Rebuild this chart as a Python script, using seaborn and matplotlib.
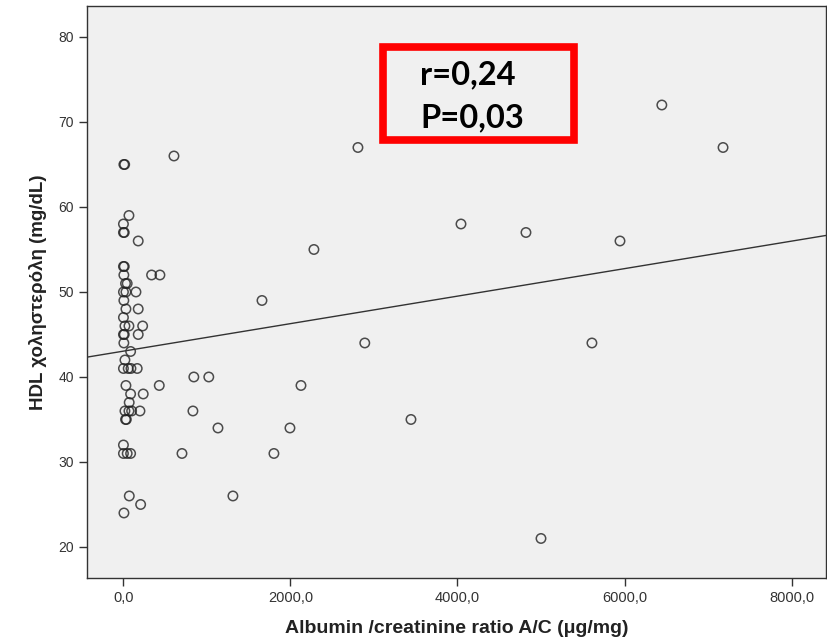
import numpy as np
import pandas as pd
import matplotlib
matplotlib.use('Agg')
import matplotlib.pyplot as plt
from matplotlib.patches import Rectangle
from matplotlib.ticker import FuncFormatter
import seaborn as sns

# Albumin/creatinine ratio (μg/mg) and HDL (mg/dL)
acr_cluster = [5, 15, 66, 0, 0, 10, 177,
               0, 10, 5, 337, 437, 25, 45,
               0, 30, 150, 5, 30, 177, 0,
               18, 66, 230, 0, 10, 177, 5,
               86, 18, 0, 57, 90, 165,
               30, 429, 86, 237, 69,
               18, 66, 98, 198, 25, 35,
               0, 0, 45, 86, 70, 206, 6]
hdl_cluster = [65, 65, 59, 58, 57, 57, 56,
               53, 53, 52, 52, 52, 51, 51,
               50, 50, 50, 49, 48, 48, 47,
               46, 46, 46, 45, 45, 45, 44,
               43, 42, 41, 41, 41, 41,
               39, 39, 38, 38, 37,
               36, 36, 36, 36, 35, 35,
               32, 31, 31, 31, 26, 25, 24]

acr_spread = [605, 2808, 6447, 7180, 4042, 4820, 5946, 2281, 1659, 2890, 5610,
              2126, 843, 1022, 832, 1132, 1994, 3443, 701, 1802, 1311, 5000]
hdl_spread = [66, 67, 72, 67, 58, 57, 56, 55, 49, 44, 44,
              39, 40, 40, 36, 34, 34, 35, 31, 31, 26, 21]

x_ticks = [0, 2000, 4000, 6000, 8000]
y_ticks = [20, 30, 40, 50, 60, 70, 80]
stats_lines = ['r=0,24', 'P=0,03']

df = pd.DataFrame({'acr': acr_cluster + acr_spread,
                   'hdl': hdl_cluster + hdl_spread})

sns.set_style('ticks')
plt.rcParams['font.family'] = ['Liberation Sans', 'DejaVu Sans']

fig = plt.figure(figsize=(8.28, 6.42), dpi=100)
ax = fig.add_axes([0.105, 0.0997, 0.8926, 0.891])
ax.set_facecolor('#f0f0f0')
ax.set_xlim(-437, 8413)
ax.set_ylim(16.35, 83.65)

sns.regplot(data=df, x='acr', y='hdl', ax=ax, ci=None, truncate=False,
            scatter_kws=dict(s=46, facecolors='none', edgecolors='#222222', linewidths=1.1),
            line_kws=dict(color='#333333', lw=1))

ax.set_xticks(x_ticks)
ax.set_yticks(y_ticks)
ax.xaxis.set_major_formatter(FuncFormatter(lambda v, p: f'{v:.1f}'.replace('.', ',')))
ax.tick_params(axis='both', length=6, width=1, color='#333333', labelsize=10, labelcolor='#333333')
for lbl in ax.get_xticklabels():
    lbl.set_fontsize(10.5)

for s in ax.spines.values():
    s.set_visible(True)
    s.set_color('#333333')
    s.set_linewidth(1)

ax.set_xlabel('Albumin /creatinine ratio A/C (μg/mg)', fontsize=14, fontweight='bold',
              color='#222222', labelpad=11)
ax.set_ylabel('HDL χοληστερόλη (mg/dL)', fontsize=13.5, fontweight='bold',
              color='#222222', labelpad=8)

# red box with the correlation stats
ax.add_patch(Rectangle((0.4, 0.765), 0.259, 0.164, transform=ax.transAxes,
                       fill=False, edgecolor='#ff0000', lw=5.5, zorder=5))
ax.text(0.451, 0.879, stats_lines[0], transform=ax.transAxes, fontsize=23.5,
        fontweight='bold', family='Lato', color='black', va='center', ha='left')
ax.text(0.451, 0.804, stats_lines[1], transform=ax.transAxes, fontsize=23.5,
        fontweight='bold', family='Lato', color='black', va='center', ha='left')

fig.savefig('out.png', dpi=100)
